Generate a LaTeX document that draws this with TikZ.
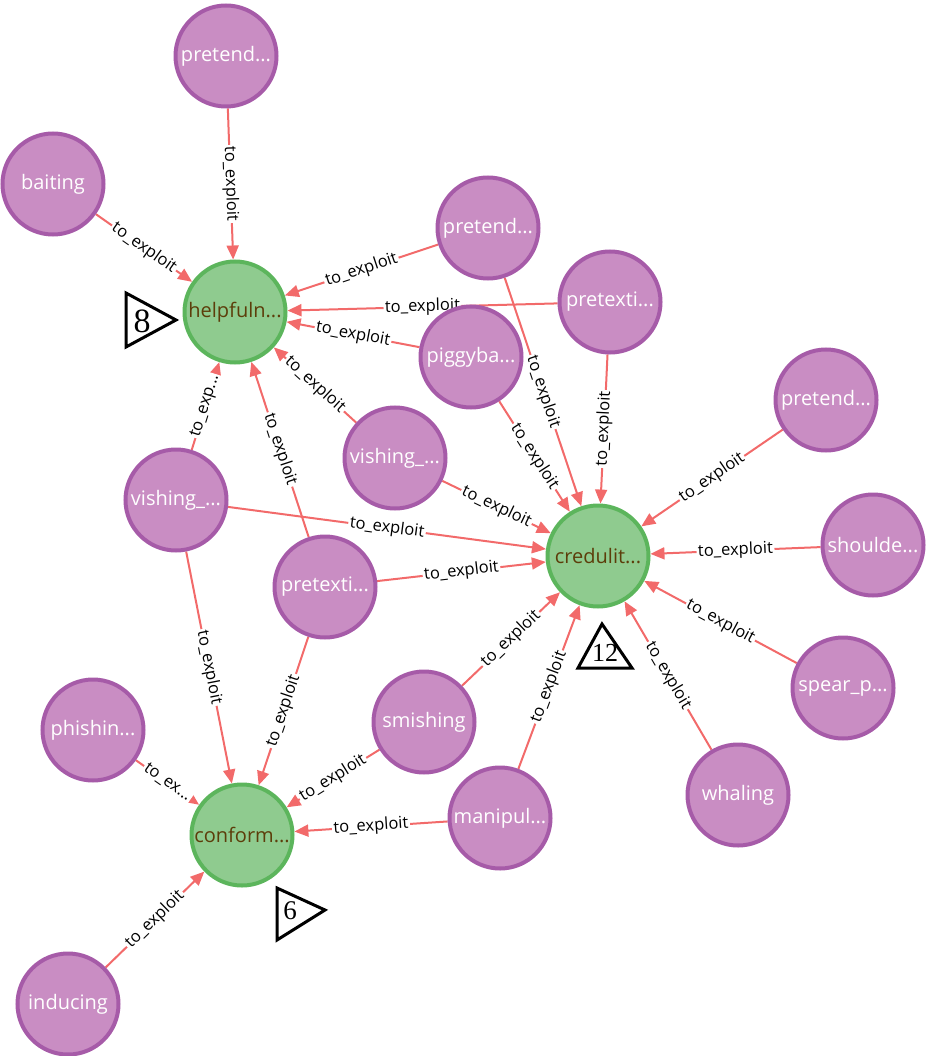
\documentclass[tikz,border=0pt]{standalone}
\usepackage{fontspec}
\setmainfont{Open Sans}
\newfontfamily\numfont{Liberation Serif}
\usetikzlibrary{arrows.meta,backgrounds}

\definecolor{plum}{HTML}{C98DC3}
\definecolor{plumline}{HTML}{A65BA8}
\definecolor{leaf}{HTML}{8FCB8F}
\definecolor{leafline}{HTML}{5CB55C}
\definecolor{bark}{HTML}{5C3D0A}
\definecolor{linkred}{HTML}{F26A6A}

\begin{document}
\begin{tikzpicture}[x=1pt,y=-1pt,>={Triangle[length=14pt,width=12pt]},
                    every edge/.style={draw=linkred,line width=2pt,->},
                    tech/.style={circle,fill=plum,draw=plumline,line width=4pt,
                                 minimum size=101pt,inner sep=0pt,text=white,
                                 font=\fontsize{20}{20}\selectfont},
                    trait/.style={circle,fill=leaf,draw=leafline,line width=4pt,
                                  minimum size=101pt,inner sep=0pt,text=bark,
                                  font=\fontsize{20}{20}\selectfont},
                    rel/.style={sloped,fill=white,inner sep=1.5pt,
                                font=\fontsize{16.5}{16.5}\selectfont},
                    count/.style={draw,line width=3pt,miter limit=20}]
  \useasboundingbox (0,0) rectangle (926,1056);

  \node[tech]  (pretT) at (226,56)   {pretend...};
  \node[tech]  (bait)  at (53,184)   {baiting};
  \node[tech]  (pretM) at (488,228)  {pretend...};
  \node[tech]  (ptxA)  at (610,302)  {pretexti...};
  \node[tech]  (piggy) at (471,357)  {piggyba...};
  \node[tech]  (pretR) at (826,400)  {pretend...};
  \node[tech]  (vishA) at (395,458)  {vishing\_...};
  \node[tech]  (vishB) at (176,500)  {vishing\_...};
  \node[tech]  (shoul) at (873,545)  {shoulde...};
  \node[tech]  (ptxB)  at (325,587)  {pretexti...};
  \node[tech]  (spear) at (843,688)  {spear\_p...};
  \node[tech]  (phish) at (93,730)   {phishin...};
  \node[tech]  (smish) at (424,722)  {smishing};
  \node[tech]  (whale) at (738,795)  {whaling};
  \node[tech]  (manip) at (500,818)  {manipul...};
  \node[tech]  (induc) at (68,1004)  {inducing};
  \node[trait] (help)  at (235,312)  {helpfuln...};
  \node[trait] (cred)  at (598,556)  {credulit...};
  \node[trait] (conf)  at (242,835)  {conform...};

  % in-degree markers
  \draw[count] (126,293) -- (126,347) -- (176,320) -- cycle;
  \node (n8) at (142,321) {\numfont\fontsize{34}{34}\selectfont 8};
  \draw[count] (602,624) -- (578,668) -- (632,668) -- cycle;
  \node (n12) at (605,653) {\numfont\fontsize{26}{26}\selectfont 12};
  \draw[count] (277,888) -- (277,940) -- (325,910) -- cycle;
  \node (n6) at (290,911) {\numfont\fontsize{27}{27}\selectfont 6};

  \begin{pgfonlayer}{background}
  \path (pretT) edge node[rel] {to\_exploit} (help)
        (bait)  edge node[rel] {to\_exploit} (help)
        (pretM) edge node[rel] {to\_exploit} (help)
                edge node[rel] {to\_exploit} (cred)
        (ptxA)  edge node[rel] {to\_exploit} (help)
                edge node[rel] {to\_exploit} (cred)
        (piggy) edge node[rel] {to\_exploit} (help)
                edge node[rel] {to\_exploit} (cred)
        (vishA) edge node[rel] {to\_exploit} (help)
                edge node[rel] {to\_exploit} (cred)
        (vishB) edge node[rel] {to\_exp...}  (help)
                edge node[rel] {to\_exploit} (cred)
                edge node[rel] {to\_exploit} (conf)
        (ptxB)  edge node[rel] {to\_exploit} (help)
                edge node[rel] {to\_exploit} (cred)
                edge node[rel] {to\_exploit} (conf)
        (pretR) edge node[rel] {to\_exploit} (cred)
        (shoul) edge node[rel] {to\_exploit} (cred)
        (spear) edge node[rel] {to\_exploit} (cred)
        (whale) edge node[rel] {to\_exploit} (cred)
        (smish) edge node[rel] {to\_exploit} (cred)
                edge node[rel] {to\_exploit} (conf)
        (manip) edge node[rel] {to\_exploit} (cred)
                edge node[rel] {to\_exploit} (conf)
        (phish) edge node[rel] {to\_ex...}   (conf)
        (induc) edge node[rel] {to\_exploit} (conf);
  \end{pgfonlayer}
\end{tikzpicture}
\end{document}
